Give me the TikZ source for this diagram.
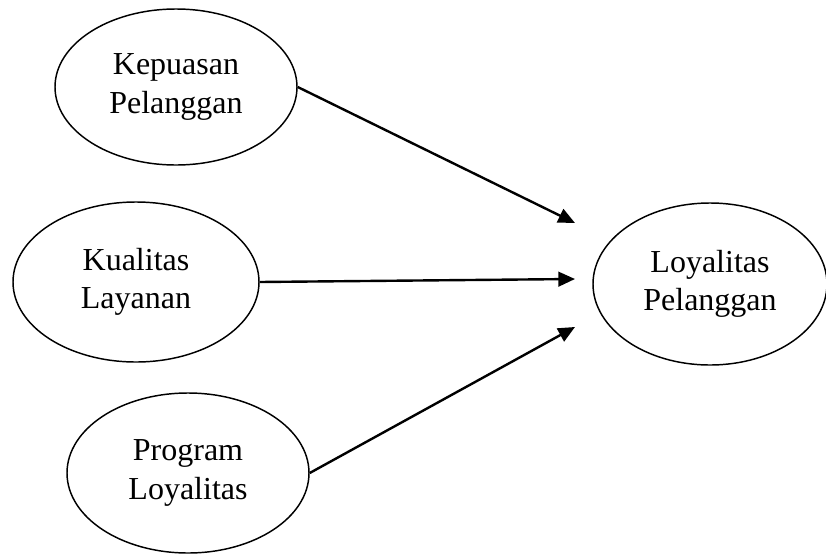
\documentclass[tikz,border=0pt]{standalone}
\usepackage{fontspec}
\setmainfont{Liberation Serif}
\usepackage{tikz}
\usetikzlibrary{shapes.geometric,arrows.meta}

\begin{document}
\begin{tikzpicture}[x=0.75pt, y=-0.75pt, font=\fontsize{24}{29}\selectfont,
  >={Triangle[length=12.5pt, width=11pt]},
  var/.style={draw, ellipse, line width=1.1pt, inner sep=0pt, align=center},
  link/.style={->, line width=1.8pt}]
\useasboundingbox (0,0) rectangle (826,554);
\node[var, minimum width=181.5pt, minimum height=117pt] (kep) at (176, 87) {Kepuasan\\Pelanggan};
\node[var, minimum width=184.5pt, minimum height=120pt] (kua) at (136, 282) {Kualitas\\Layanan};
\node[var, minimum width=181.5pt, minimum height=120pt] (pro) at (188, 473) {Program\\Loyalitas};
\node[var, minimum width=175.5pt, minimum height=121.5pt] (loy) at (710, 284) {Loyalitas\\Pelanggan};
\coordinate (t1) at (575, 223);
\coordinate (t2) at (575, 279);
\coordinate (t3) at (575, 327);
\draw[link] (kep.east) -- (t1);
\draw[link] (kua.east) -- (t2);
\draw[link] (pro.east) -- (t3);
\end{tikzpicture}
\end{document}
